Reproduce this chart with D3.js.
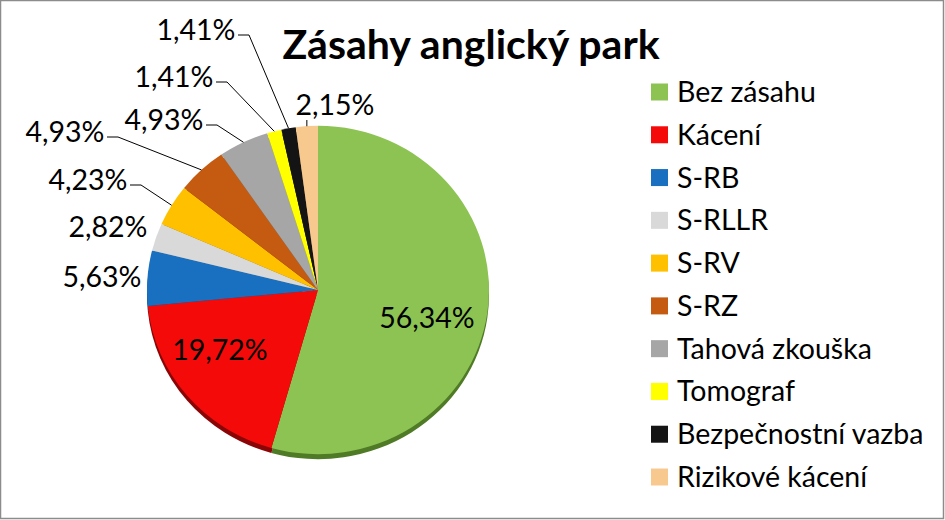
<!DOCTYPE html>
<html><head><meta charset="utf-8">
<script src="https://cdnjs.cloudflare.com/ajax/libs/d3/7.8.5/d3.min.js"></script>
<style>
html,body{margin:0;padding:0;background:#fff;}
svg{display:block;font-family:Lato,"Open Sans",sans-serif;}
</style></head><body>
<svg id="c" width="945" height="520"></svg>
<script>
const title = "Zásahy anglický park";
const categories = ["Bez zásahu","Kácení","S-RB","S-RLLR","S-RV","S-RZ","Tahová zkouška","Tomograf","Bezpečnostní vazba","Rizikové kácení"];
const values = [56.34,19.72,5.63,2.82,4.23,4.93,4.93,1.41,1.41,2.15];
const colors = ["#8cc352","#f50a0a","#1a70c0","#d9d9d9","#ffc000","#c55a11","#a6a6a6","#ffff00","#141414","#f8c98f"];
const shadowColors = ["#4f7a26","#8a0606","#0e3f70","#8a8a8a","#9a7300","#6e3209","#5e5e5e","#9a9a00","#000000","#9a7a52"];
// label layout (pixel positions of label centres)
const labelLayout = [
  {x:427, y:318},
  {x:220, y:350},
  {x:102, y:277},
  {x:108, y:227},
  {x:88,  y:180, line:true},
  {x:65,  y:132, line:true},
  {x:164, y:120, line:true},
  {x:174, y:77,  line:true},
  {x:196, y:30,  line:true},
  {x:335, y:105, line:"v"}
];

const svg = d3.select("#c");
const W = 945, H = 520;
svg.append("rect").attr("x",0.5).attr("y",0.5).attr("width",W-2).attr("height",H-2)
  .attr("fill","#fff").attr("stroke","#8c8c8c").attr("stroke-width",1.5);

svg.append("text").attr("x",471).attr("y",59).attr("text-anchor","middle")
  .attr("font-weight","bold").attr("font-size",41).attr("fill","#000").text(title);

const cx = 318, cy = 290, R = 171, sy = 0.96;
const pie = d3.pie().sort(null).value(d=>d);
const arcs = pie(values);
const arc = d3.arc().innerRadius(0).outerRadius(R);

const shadow = svg.append("g").attr("transform",`translate(${cx},${cy+5}) scale(1,${sy})`);
shadow.selectAll("path").data(arcs).join("path")
  .attr("d",arc).attr("fill",(d,i)=>shadowColors[i]);
const g = svg.append("g").attr("transform",`translate(${cx},${cy}) scale(1,${sy})`);
g.selectAll("path").data(arcs).join("path")
  .attr("d",arc).attr("fill",(d,i)=>colors[i]);

const fmt = v => d3.format(".2f")(v).replace(".",",") + "%";
const fs = 28.5;
const labels = svg.append("g").attr("font-size",fs).attr("fill","#000");
arcs.forEach((a,i)=>{
  const L = labelLayout[i];
  labels.append("text").attr("x",L.x).attr("y",L.y).attr("dy","0.35em")
    .attr("text-anchor","middle").text(fmt(values[i]));
  if(L.line){
    const mid = (a.startAngle+a.endAngle)/2;
    const ex = cx + R*Math.sin(mid), ey = cy - R*sy*Math.cos(mid);
    let pts;
    if(L.line==="v"){
      pts = [[ex, L.y+15],[ex, ey]];
    } else {
      const tw = 76;
      const sx = L.x + tw/2 + 4, syy = L.y + 5;
      pts = [[sx, syy],[sx+11, syy],[ex, ey]];
    }
    svg.append("path").attr("d",d3.line()(pts)).attr("fill","none")
      .attr("stroke","#000").attr("stroke-width",1);
  }
});

const legend = svg.append("g");
const ly = d3.scaleLinear().domain([0,9]).range([92,477]);
categories.forEach((c,i)=>{
  legend.append("rect").attr("x",651).attr("y",ly(i)-8.5).attr("width",17).attr("height",17).attr("fill",colors[i]);
  legend.append("text").attr("x",677).attr("y",ly(i)).attr("dy","0.35em")
    .attr("font-size",28.5).attr("fill","#000").text(c);
});
</script>
</body></html>
